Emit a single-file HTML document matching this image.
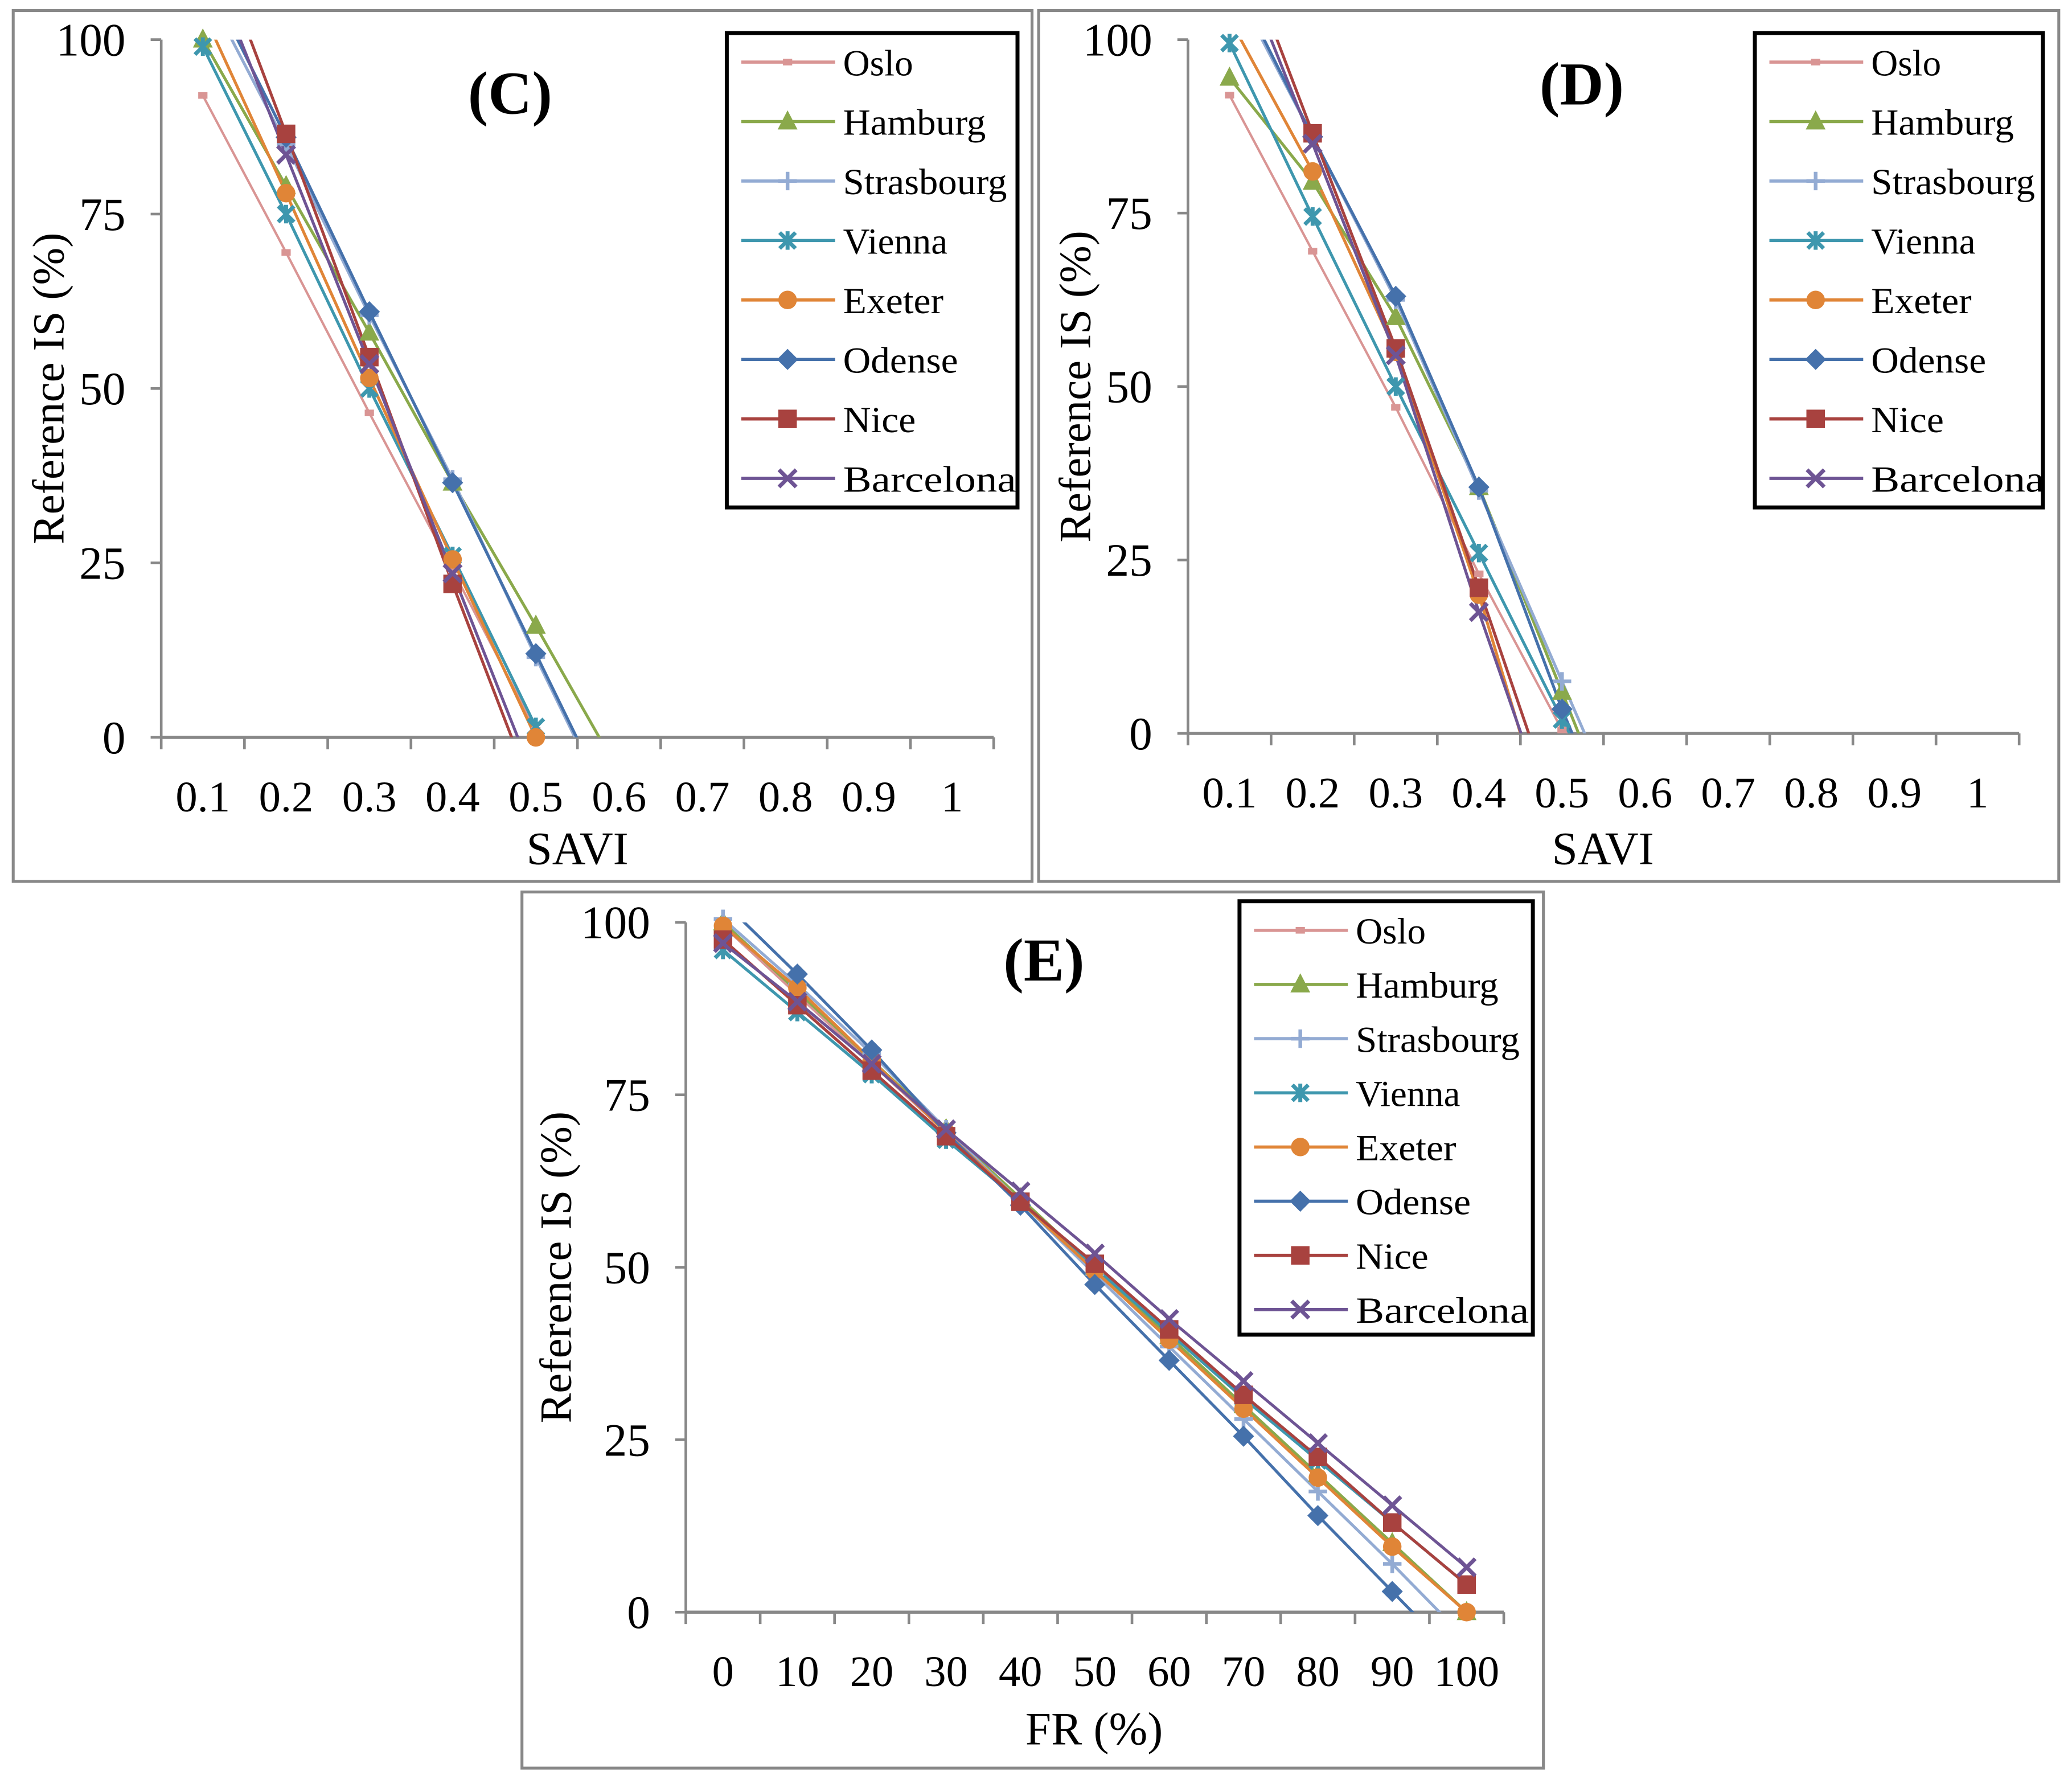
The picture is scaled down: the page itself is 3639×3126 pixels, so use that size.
<!DOCTYPE html>
<html><head><meta charset="utf-8"><style>
html,body{margin:0;padding:0;background:#fff}
svg{display:block}
text{font-family:"Liberation Serif",serif;fill:#000}
</style></head><body>
<svg id="fig" width="3639" height="3126" viewBox="0 0 1568 1347" preserveAspectRatio="none" xmlns="http://www.w3.org/2000/svg">
<rect x="0" y="0" width="1568" height="1347" fill="#fff"/>
<rect x="10" y="8" width="771" height="659" fill="none" stroke="#888" stroke-width="2.2"/>
<rect x="786" y="8" width="772" height="659" fill="none" stroke="#888" stroke-width="2.2"/>
<rect x="395" y="675" width="773" height="663" fill="none" stroke="#888" stroke-width="2.2"/>
</svg>
<script>
const cities = ["Oslo","Hamburg","Strasbourg","Vienna","Exeter","Odense","Nice","Barcelona"];
const colors = ["#d99594","#8aa94b","#93abd3","#3e97ae","#e08537","#4571ab","#a8423f","#6e5494"];
const markers = ["dash","triangle","plus","star","circle","diamond","square","x"];
const savTicks = ["0.1","0.2","0.3","0.4","0.5","0.6","0.7","0.8","0.9","1"];
const frTicks = ["0","10","20","30","40","50","60","70","80","90","100"];
const yTicks = [0,25,50,75,100];
// Panel C values at SAVI 0.1..0.6 (values outside 0-100 are clipped, no marker)
const cOslo = [92,69.5,46.5,24,1];
const cHamburg = [100,79,58,36.5,16,-5];
const cStrasbourg = [108,85,60.5,37,11.5,-13];
const cVienna = [99,75,50,26,1.5,-22];
const cExeter = [104,78,51.5,25.5,0];
const cOdense = [110,86,61,36.5,12,-12.5];
const cNice = [118,86.5,54.5,22,-9];
const cBarcelona = [113.5,83.5,53.5,23.5,-6.5];
// Panel D values
const dOslo = [92,69.5,47,23,0.5,-5];
const dHamburg = [94.5,79.5,60,35.5,6,-24];
const dStrasbourg = [109,86,62.5,35,7.5,-20];
const dVienna = [99.5,74.5,50,26,2,-20];
const dExeter = [103,81,55,20,-20];
const dOdense = [110,86,63,35.5,3.5,-25];
const dNice = [118,86.5,55.5,21,-14];
const dBarcelona = [115,85,54.5,17.5,-17];
// Panel E values at FR 0..100
const eOslo = [99.5,89.5,79.5,69.5,59.5,49.5,39.5,29.5,19.5,9.5,0];
const eHamburg = [100,90,80,70,60,50,40,30,20,10,0];
const eStrasbourg = [100.5,91,81,70,59.5,49,38.5,28,17.5,7,-4];
const eVienna = [96,87,78,68.5,59.5,50,40.5,31,22,13,4];
const eExeter = [99.5,90.5,80,69.5,59.5,49.5,39.5,29.5,19.5,9.5,0];
const eOdense = [103,92.5,81.5,69.5,59,47.5,36.5,25.5,14,3,-8];
const eNice = [97.5,88,78.5,69,59.5,50.5,41,31.5,22.5,13,4];
const eBarcelona = [97,88.5,79.5,70,61,52,42.5,33.5,24.5,15.5,6.5];

const NS="http://www.w3.org/2000/svg";
const svg=document.getElementById('fig');
function mk(tag,attrs,parent){const e=document.createElementNS(NS,tag);for(const k in attrs)e.setAttribute(k,attrs[k]);(parent||svg).appendChild(e);return e;}

function marker(g,type,x,y,col){
  let e;
  if(type==="dash"){e=mk('rect',{x:x-3.5,y:y-2.5,width:7,height:5,fill:col},g);}
  else if(type==="triangle"){e=mk('polygon',{points:`${x},${y-8.5} ${x+7.5},${y+6} ${x-7.5},${y+6}`,fill:col},g);}
  else if(type==="plus"){e=mk('path',{d:`M${x-7},${y}H${x+7}M${x},${y-7}V${y+7}`,stroke:col,'stroke-width':2.8,fill:'none'},g);}
  else if(type==="star"){e=mk('path',{d:`M${x-6},${y-6}L${x+6},${y+6}M${x-6},${y+6}L${x+6},${y-6}M${x},${y-7}V${y+7}`,stroke:col,'stroke-width':3,fill:'none'},g);}
  else if(type==="circle"){e=mk('circle',{cx:x,cy:y,r:7,fill:col},g);}
  else if(type==="diamond"){e=mk('polygon',{points:`${x},${y-8} ${x+8},${y} ${x},${y+8} ${x-8},${y}`,fill:col},g);}
  else if(type==="square"){e=mk('rect',{x:x-7,y:y-7,width:14,height:14,fill:col},g);}
  else {e=mk('path',{d:`M${x-6.5},${y-6.5}L${x+6.5},${y+6.5}M${x-6.5},${y+6.5}L${x+6.5},${y-6.5}`,stroke:col,'stroke-width':3,fill:'none'},g);}
  
  
}

function panel(cfg){
  const g=mk('g',{});
  
  
  const n=cfg.ticks.length;
  const step=(cfg.x1-cfg.x0)/n;
  const xs=i=>cfg.x0+step*(i+0.5);
  const ys=v=>cfg.y0-(v/100)*(cfg.y0-cfg.y100);
  const ya=mk('line',{x1:cfg.x0,y1:cfg.y100,x2:cfg.x0,y2:cfg.y0,stroke:'#888','stroke-width':2},g);
  
  
  yTicks.forEach(v=>{
    mk('line',{x1:cfg.x0-8,y1:ys(v),x2:cfg.x0,y2:ys(v),stroke:'#888','stroke-width':2},g);
    const t=mk('text',{x:cfg.x0-27,y:ys(v)+12,'text-anchor':'end','font-size':35},g);
    t.textContent=v;
    
    
  });
  const xa=mk('line',{x1:cfg.x0,y1:cfg.y0,x2:cfg.x1,y2:cfg.y0,stroke:'#888','stroke-width':2.4},g);
  
  
  for(let i=0;i<=n;i++){mk('line',{x1:cfg.x0+step*i,y1:cfg.y0,x2:cfg.x0+step*i,y2:cfg.y0+9,stroke:'#888','stroke-width':2},g);}
  cfg.ticks.forEach((lab,i)=>{
    const t=mk('text',{x:xs(i),y:cfg.y0+56,'text-anchor':'middle','font-size':33},g);
    t.textContent=lab;
    
    
  });
  const xt=mk('text',{x:cfg.xtx,y:cfg.xty,'text-anchor':'middle','font-size':35},g);
  xt.textContent=cfg.xtitle;
  
  
  const yt=mk('text',{x:0,y:0,'text-anchor':'middle','font-size':34,transform:`translate(${cfg.ytx},${(cfg.y0+cfg.y100)/2}) rotate(-90)`},g);
  yt.textContent="Reference IS (%)";
  
  
  const tt=mk('text',{x:cfg.tx,y:cfg.ty,'text-anchor':'middle','font-size':46,'font-weight':'bold'},g);
  tt.textContent=cfg.title;
  
  
  const cid='clip'+cfg.name;
  const cp=mk('clipPath',{id:cid},g);
  mk('rect',{x:cfg.x0,y:cfg.y100,width:cfg.x1-cfg.x0,height:cfg.y0-cfg.y100},cp);
  const sg=mk('g',{'clip-path':`url(#${cid})`},g);
  const mg=mk('g',{},g);
  cfg.series.forEach((vals,si)=>{
    const pts=vals.map((v,i)=>`${xs(i)},${ys(v)}`).join(' ');
    const pl=mk('polyline',{points:pts,fill:'none',stroke:colors[si],'stroke-width':si===0?1.8:2.2,'stroke-linejoin':'round'},sg);
    
    
  });
  cfg.series.forEach((vals,si)=>{
    vals.forEach((v,i)=>{ if(v>=0&&v<=100.5) marker(mg,markers[si],xs(i),ys(v),colors[si]); });
  });
  const lg=mk('g',{},g);
  
  
  mk('rect',{x:cfg.lx,y:cfg.ly,width:cfg.lw,height:cfg.lh,fill:'#fff',stroke:'#000','stroke-width':3},lg);
  cities.forEach((c,i)=>{
    const yy=cfg.ly+22+i*cfg.ls;
    const le=mk('g',{},lg);
    
    
    mk('line',{x1:cfg.lx+11,y1:yy,x2:cfg.lx+82,y2:yy,stroke:colors[i],'stroke-width':2.4},le);
    marker(le,markers[i],cfg.lx+46,yy,colors[i]);
    const t=mk('text',{x:cfg.lx+88,y:yy+10,'font-size':28,textLength:cfg.tl[i],lengthAdjust:'spacingAndGlyphs'},le);
    t.textContent=c;
  });
}
const tlC=[53,108,124,79,76,87,55,131];

panel({name:'panel-c',x0:122,x1:752,y0:558,y100:30,ticks:savTicks,xtitle:'SAVI',xtx:437,xty:654,ytx:48,title:'(C)',tx:386,ty:86,
  series:[cOslo,cHamburg,cStrasbourg,cVienna,cExeter,cOdense,cNice,cBarcelona],lx:550,ly:25,lw:220,lh:359,ls:45,tl:tlC});
panel({name:'panel-d',x0:899,x1:1528,y0:555,y100:30,ticks:savTicks,xtitle:'SAVI',xtx:1213,xty:654,ytx:825,title:'(D)',tx:1197,ty:79,
  series:[dOslo,dHamburg,dStrasbourg,dVienna,dExeter,dOdense,dNice,dBarcelona],lx:1328,ly:25,lw:218,lh:359,ls:45,tl:tlC});
panel({name:'panel-e',x0:519,x1:1138,y0:1220,y100:698,ticks:frTicks,xtitle:'FR (%)',xtx:828,xty:1320,ytx:432,title:'(E)',tx:790,ty:742,
  series:[eOslo,eHamburg,eStrasbourg,eVienna,eExeter,eOdense,eNice,eBarcelona],lx:938,ly:682,lw:222,lh:328,ls:41,tl:tlC});
</script>
</body></html>
